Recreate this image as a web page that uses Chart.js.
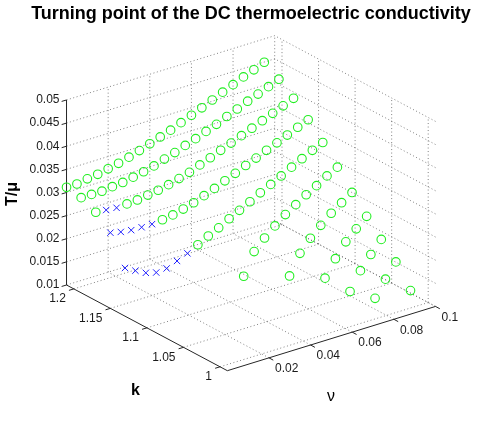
<!DOCTYPE html>
<html>
<head>
<meta charset="utf-8">
<script src="https://cdn.jsdelivr.net/npm/chart.js@4.4.1/dist/chart.umd.min.js"></script>
<style>
  html, body { margin: 0; padding: 0; background: #fff; }
  canvas { display: block; }
</style>
</head>
<body>
<canvas id="chart" width="485" height="421"></canvas>
<script>
/* ── data: T/mu at the turning point, one array per k, indexed by nu ── */
const nuValues = [0, 0.005, 0.01, 0.015, 0.02, 0.025, 0.03, 0.035, 0.04, 0.045,
                  0.05, 0.055, 0.06, 0.065, 0.07, 0.075, 0.08, 0.085, 0.09, 0.095];
const kValues = [1.21, 1.19, 1.17, 1.15, 1.13, 1.11, 1.09, 1.07, 1.05, 1.03, 1.01];

// circles (null = no point)
const tK121 = [0.03112, 0.03114, 0.03156, 0.03185, 0.03234, 0.03284, 0.03347, 0.03419, 0.03497, 0.03575,
               0.03653, 0.03745, 0.03836, 0.03928, 0.04027, 0.04126, 0.04219, 0.04318, 0.04402, 0.04495];
const tK119 = [0.03057, 0.03057, 0.03057, 0.03086, 0.03107, 0.03152, 0.03200, 0.03257, 0.03335, 0.03406,
               0.03491, 0.03568, 0.03655, 0.03739, 0.03838, 0.03931, 0.04030, 0.04114, 0.04206, 0.04297];
const tK117 = [0.02909, null, null, 0.02882, 0.02897, 0.02933, 0.02968, 0.03019, 0.03082, 0.03147,
               0.03238, 0.03324, 0.03415, 0.03501, 0.03592, 0.03684, 0.03777, 0.03867, 0.03960, 0.04053];
const tK115 = [null, null, null, null, null, 0.02568, 0.02604, 0.02661, 0.02728, 0.02811,
               0.02899, 0.02994, 0.03086, 0.03185, 0.03276, 0.03375, 0.03467, 0.03566, 0.03665, 0.03758];
const tK113 = [null, null, null, null, null, null, null, 0.02057, 0.02177, 0.02284,
               0.02411, 0.02524, 0.02640, 0.02764, 0.02876, 0.02989, 0.03109, 0.03223, 0.03335, 0.03434];
const tK111 = [null, null, null, null, null, null, null, null, null, null,
               0.01337, 0.01800, 0.02025, 0.02217, 0.02392, 0.02537, 0.02682, 0.02808, 0.02950, 0.03070];
const tK109 = [null, null, null, null, null, null, null, null, null, null,
               null, null, null, 0.01303, 0.01722, 0.01979, 0.02189, 0.02381, 0.02539, 0.02691];
const tK107 = [null, null, null, null, null, null, null, null, null, null,
               null, null, null, null, null, 0.01284, 0.01636, 0.01931, 0.02143, 0.02343];
const tK105 = [null, null, null, null, null, null, null, null, null, null,
               null, null, null, null, null, null, 0.01095, 0.01476, 0.01756, 0.02013];
const tK103 = [null, null, null, null, null, null, null, null, null, null,
               null, null, null, null, null, null, null, 0.01046, 0.01392, 0.01695];
const tK101 = [null, null, null, null, null, null, null, null, null, null,
               null, null, null, null, null, null, null, null, null, 0.01244];

// crosses (second branch, small nu)
const xK117 = [null, 0.02888, 0.02867];
const xK115 = [0.02636, 0.02583, 0.02552, 0.02545, 0.02543];
const xK113 = [0.02042, 0.01914, 0.01798, 0.01735, 0.01754, 0.01846, 0.01941];

const circleRows = [tK121, tK119, tK117, tK115, tK113, tK111, tK109, tK107, tK105, tK103, tK101];
const crossRows  = [[], [], xK117, xK115, xK113, [], [], [], [], [], []];

// axes
const nuTicks = [0.02, 0.04, 0.06, 0.08, 0.1];
const kTicks  = [1, 1.05, 1.1, 1.15, 1.2];
const tTicks  = [0.01, 0.015, 0.02, 0.025, 0.03, 0.035, 0.04, 0.045, 0.05];
const NU_MIN = 0, NU_MAX = 0.1, K_MIN = 0.99, K_MAX = 1.21, T_MIN = 0.01, T_MAX = 0.05;

/* ── fixed 3D view (orthographic, MATLAB default az/el) ── */
const VIEW = { x0: 227, y0: 375, nuX: 2130, nuY: -660, kX: -748, kY: -400, tY: -4750 };

function project(nu, k, t) {
  return {
    x: VIEW.x0 + (nu - NU_MIN) * VIEW.nuX + (k - K_MIN) * VIEW.kX,
    y: VIEW.y0 + (nu - NU_MIN) * VIEW.nuY + (k - K_MIN) * VIEW.kY + (t - T_MIN) * VIEW.tY
  };
}

const circlePts = [], crossPts = [];
kValues.forEach((k, r) => {
  circleRows[r].forEach((t, i) => { if (t !== null) circlePts.push(project(nuValues[i], k, t)); });
  crossRows[r].forEach((t, i) => { if (t !== null) crossPts.push(project(nuValues[i], k, t)); });
});

/* ── box grid, axes and tick marks as line datasets ── */
const lines = [];
function seg(a, b, solid) {
  lines.push({
    data: [a, b], showLine: true, pointRadius: 0, fill: false,
    borderColor: solid ? '#262626' : 'rgba(90,90,90,0.75)',
    borderWidth: 1, borderDash: solid ? [] : [1, 2.5],
    order: solid ? 1 : 2
  });
}

nuTicks.forEach(nu => {
  seg(project(nu, K_MIN, T_MIN), project(nu, K_MAX, T_MIN));       // floor
  seg(project(nu, K_MAX, T_MIN), project(nu, K_MAX, T_MAX));       // back-left wall
});
kTicks.forEach(k => {
  seg(project(NU_MIN, k, T_MIN), project(NU_MAX, k, T_MIN));       // floor
  seg(project(NU_MAX, k, T_MIN), project(NU_MAX, k, T_MAX));       // back-right wall
});
tTicks.forEach(t => {
  seg(project(NU_MIN, K_MAX, t), project(NU_MAX, K_MAX, t));
  seg(project(NU_MAX, K_MIN, t), project(NU_MAX, K_MAX, t));
});

// axis lines
seg(project(NU_MIN, K_MAX, T_MIN), project(NU_MIN, K_MAX, T_MAX), true);
seg(project(NU_MIN, K_MIN, T_MIN), project(NU_MIN, K_MAX, T_MIN), true);
seg(project(NU_MIN, K_MIN, T_MIN), project(NU_MAX, K_MIN, T_MIN), true);

// tick marks (pointing out of the box)
const off = (p, dx, dy) => ({ x: p.x + dx, y: p.y + dy });
tTicks.forEach(t => { const p = project(NU_MIN, K_MAX, t); seg(p, off(p, -5, 1.5), true); });
kTicks.forEach(k => { const p = project(NU_MIN, k, T_MIN); seg(p, off(p, -5, 1.5), true); });
nuTicks.forEach(nu => { const p = project(nu, K_MIN, T_MIN); seg(p, off(p, 4.4, 2.4), true); });

/* ── texts ── */
const fmt = v => String(+v.toFixed(4));
const textPlugin = {
  id: 'texts',
  afterDraw(chart) {
    const { ctx, scales: { x, y } } = chart;
    const px = p => ({ x: x.getPixelForValue(p.x), y: y.getPixelForValue(p.y) });
    ctx.save();
    ctx.fillStyle = '#000';

    ctx.font = 'bold 18px "Liberation Sans", Arial, sans-serif';
    ctx.textAlign = 'center';
    ctx.textBaseline = 'middle';
    ctx.fillText('Turning point of the DC thermoelectric conductivity', 251, 14);

    ctx.font = '12px "Liberation Sans", Arial, sans-serif';
    ctx.fillStyle = '#1a1a1a';
    ctx.textAlign = 'right';
    tTicks.forEach(t => {
      const p = px(project(NU_MIN, K_MAX, t));
      ctx.fillText(fmt(t), p.x - 7, p.y);
    });
    kTicks.forEach(k => {
      const p = px(project(NU_MIN, k, T_MIN));
      ctx.fillText(fmt(k), p.x - 8, p.y + 10);
    });
    ctx.textAlign = 'left';
    nuTicks.forEach(nu => {
      const p = px(project(nu, K_MIN, T_MIN));
      ctx.fillText(fmt(nu), p.x + 6, p.y + 11);
    });

    ctx.fillStyle = '#000';
    ctx.textAlign = 'center';
    ctx.font = 'bold 16px "Liberation Sans", Arial, sans-serif';
    ctx.fillText('k', 135.5, 391);
    ctx.font = '16px "Liberation Sans", Arial, sans-serif';
    ctx.fillText('\u03bd', 331, 397);

    ctx.translate(13, 194);
    ctx.rotate(-Math.PI / 2);
    ctx.font = 'bold 16px "Liberation Sans", Arial, sans-serif';
    ctx.fillText('T/\u03bc', 0, 0);
    ctx.restore();
  }
};

new Chart(document.getElementById('chart'), {
  type: 'scatter',
  data: {
    datasets: [
      {
        label: 'crosses', data: crossPts, order: 0,
        pointStyle: 'crossRot', pointRadius: 4.5, borderColor: '#2222ff', borderWidth: 1
      },
      {
        label: 'circles', data: circlePts, order: 0,
        pointStyle: 'circle', pointRadius: 4.3, backgroundColor: 'transparent',
        borderColor: '#22ee22', borderWidth: 1.1
      },
      ...lines
    ]
  },
  options: {
    responsive: false, animation: false, devicePixelRatio: 1,
    layout: { padding: 0 },
    scales: {
      x: { type: 'linear', min: 0, max: 485, display: false },
      y: { type: 'linear', min: 0, max: 421, reverse: true, display: false }
    },
    plugins: { legend: { display: false }, tooltip: { enabled: false } }
  },
  plugins: [textPlugin]
});
</script>
</body>
</html>
